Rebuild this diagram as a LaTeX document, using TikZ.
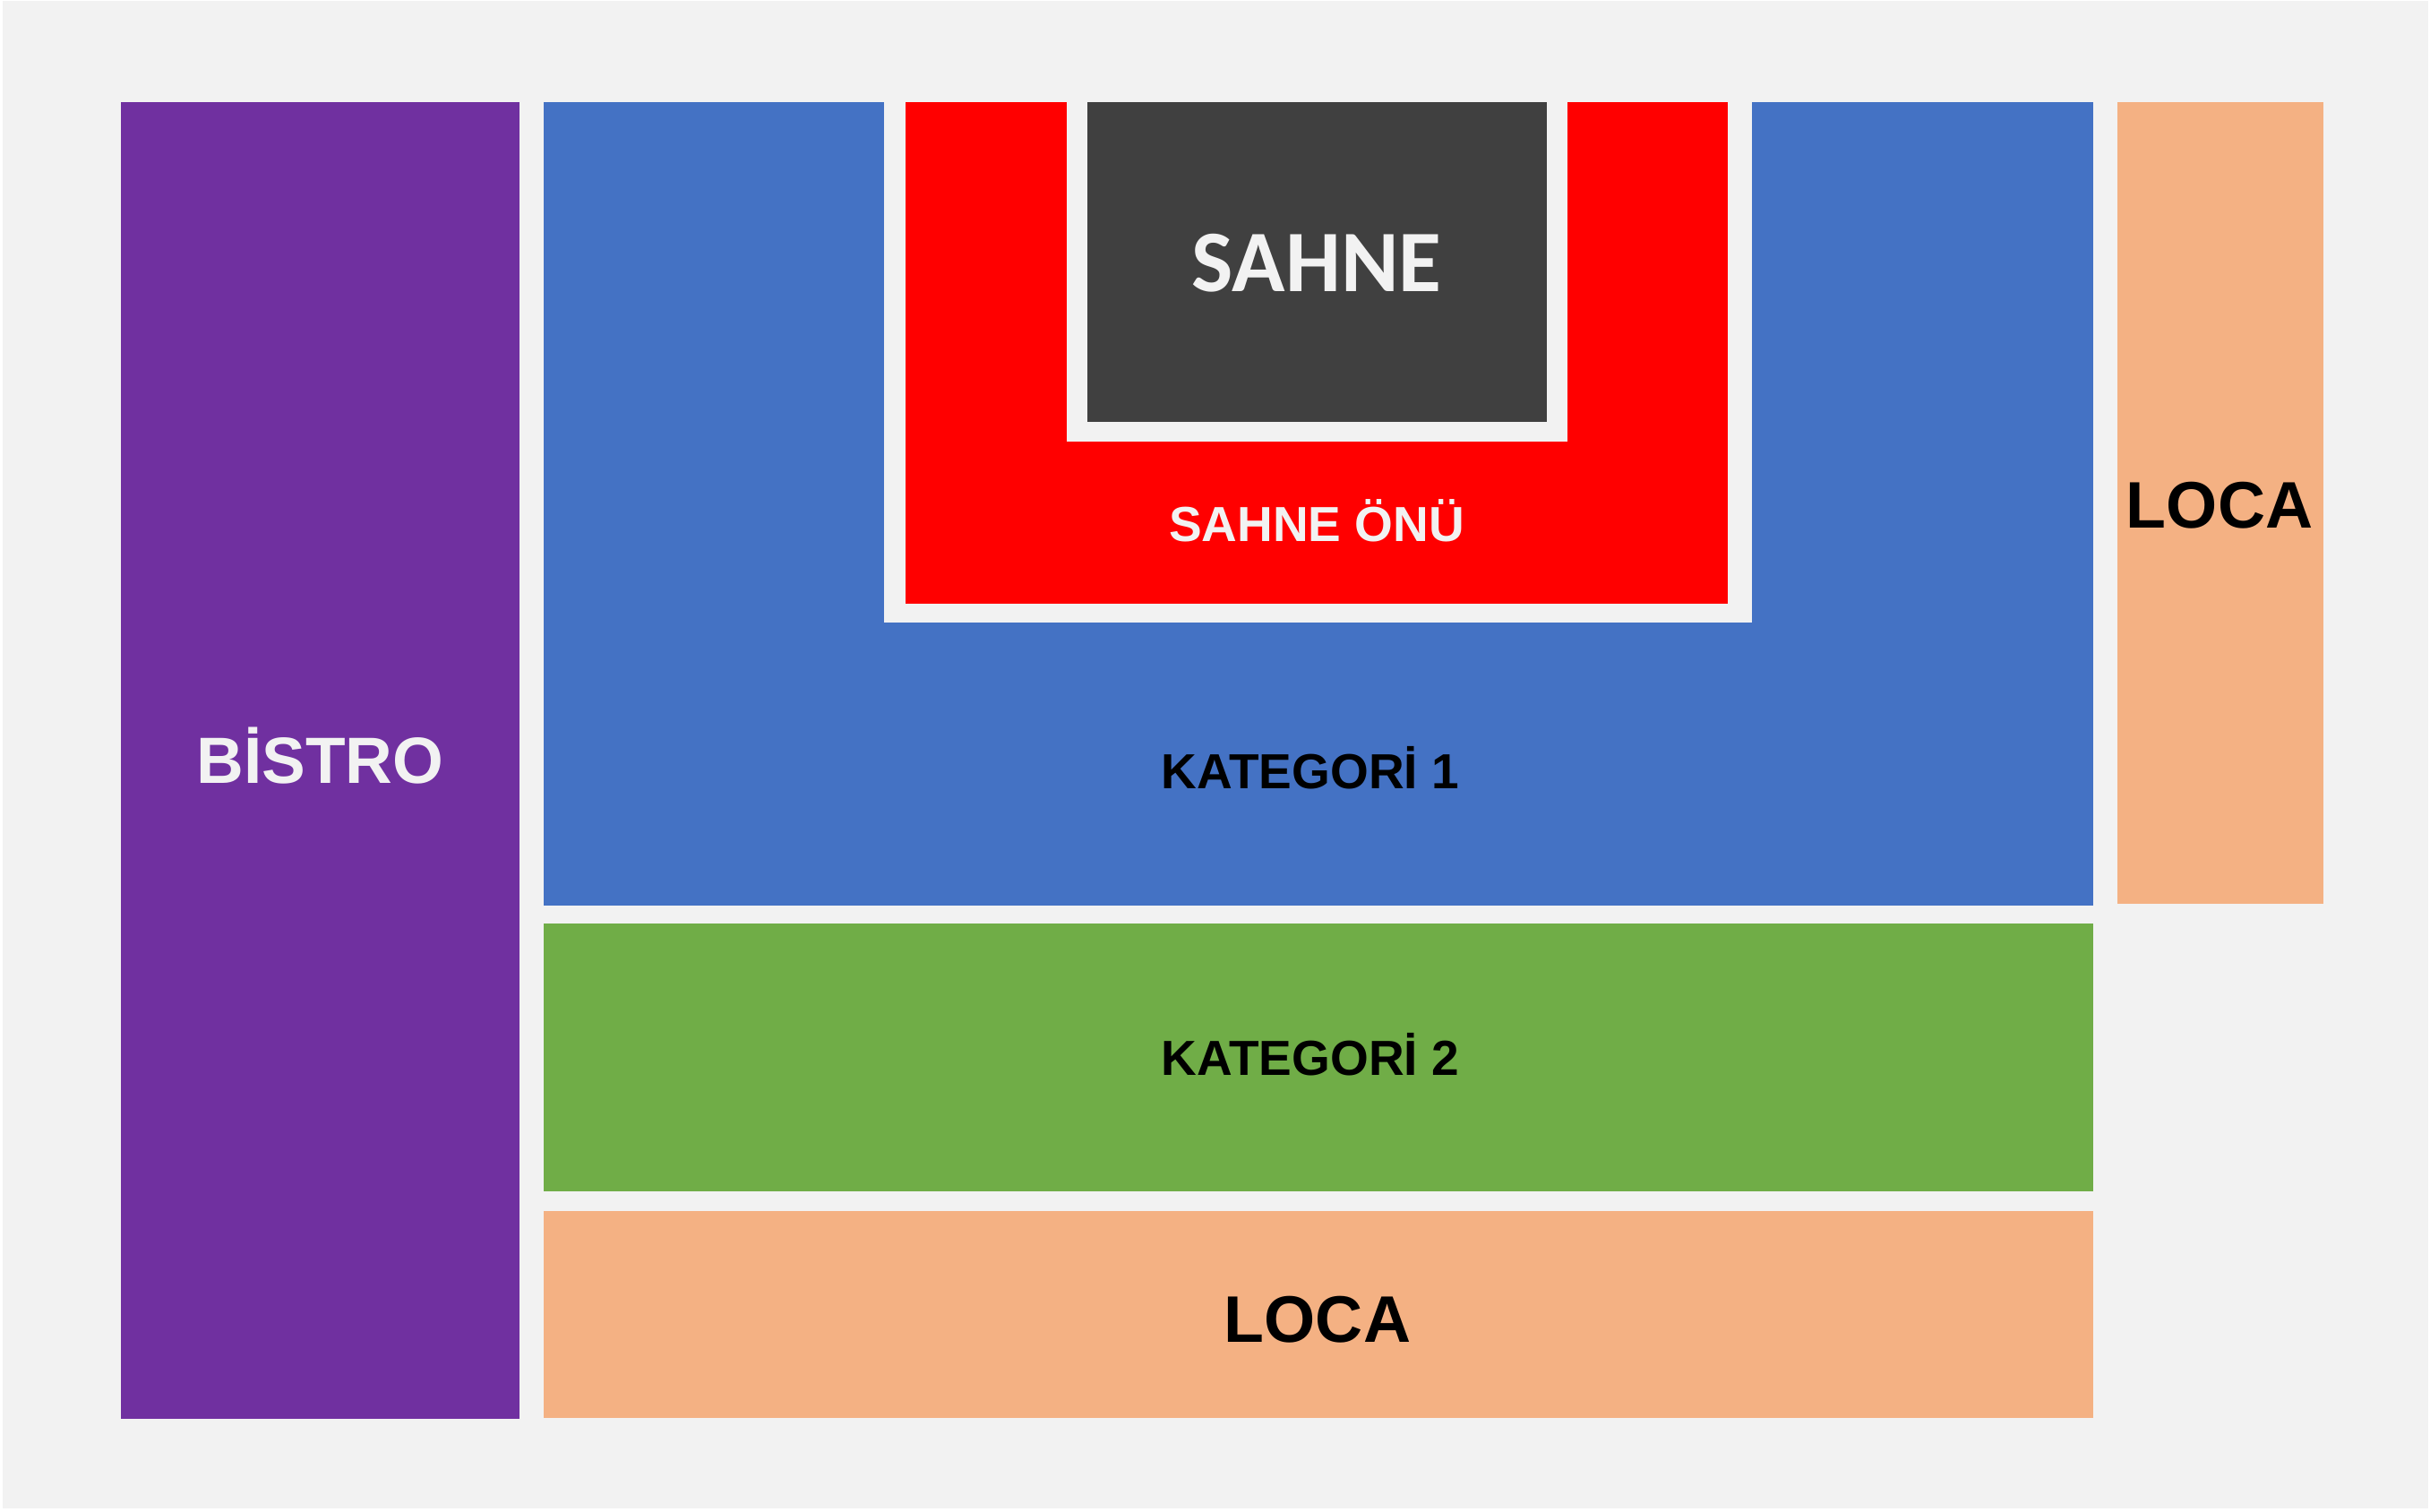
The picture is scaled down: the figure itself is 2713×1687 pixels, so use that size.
\documentclass[tikz,border=0pt]{standalone}
\usepackage{fontspec}
\setmainfont{Liberation Sans}
\newfontfamily\carlito{Carlito}
\definecolor{bgc}{HTML}{F2F2F2}
\definecolor{bistroc}{HTML}{7030A0}
\definecolor{katbirc}{HTML}{4472C4}
\definecolor{onuc}{HTML}{FF0000}
\definecolor{sahnec}{HTML}{404040}
\definecolor{katikic}{HTML}{70AD47}
\definecolor{locac}{HTML}{F4B183}
\begin{document}
\begin{tikzpicture}[x=1pt,y=-1pt,
  lbl/.style={anchor=base,inner sep=0pt,font=\bfseries},
  lightlbl/.style={lbl,text=bgc},
  darklbl/.style={lbl,text=black}]
\useasboundingbox (0,0) rectangle (2713,1687);
\fill[white] (0,0) rectangle (2713,1687);
\fill[bgc] (3,1) rectangle (2711,1684);
% BISTRO
\fill[bistroc] (135,114) rectangle (580,1584);
% Kategori 1 (U shape)
\fill[katbirc] (607,114) rectangle (987,1011);
\fill[katbirc] (987,695) rectangle (1956,1011);
\fill[katbirc] (1956,114) rectangle (2337,1011);
% Sahne onu (U shape)
\fill[onuc] (1011,114) rectangle (1191,674);
\fill[onuc] (1191,493) rectangle (1750,674);
\fill[onuc] (1750,114) rectangle (1929,674);
% Sahne
\fill[sahnec] (1214,114) rectangle (1727,471);
% Kategori 2
\fill[katikic] (607,1031) rectangle (2337,1330);
% Loca
\fill[locac] (607,1352) rectangle (2337,1583);
\fill[locac] (2364,114) rectangle (2594,1009);
% labels
\node[lightlbl,font=\bfseries\fontsize{73}{80}\selectfont] (bistro) at (357.5,874) {BİSTRO};
\node[lightlbl,font=\carlito\bfseries\fontsize{98}{105}\selectfont] (sahne) at (1470,325.6) {SAHNE};
\node[lightlbl,font=\bfseries\fontsize{55}{60}\selectfont] (onu) at (1470,604.6) {SAHNE ÖNÜ};
\node[darklbl,font=\bfseries\fontsize{55}{60}\selectfont] (kat1) at (1463,880) {KATEGORİ 1};
\node[darklbl,font=\bfseries\fontsize{55}{60}\selectfont] (kat2) at (1463,1200.7) {KATEGORİ 2};
\node[darklbl,font=\bfseries\fontsize{73.5}{80}\selectfont] (loca1) at (1471,1498) {LOCA};
\node[darklbl,font=\bfseries\fontsize{73.5}{80}\selectfont] (loca2) at (2478,589) {LOCA};
\end{tikzpicture}
\end{document}
